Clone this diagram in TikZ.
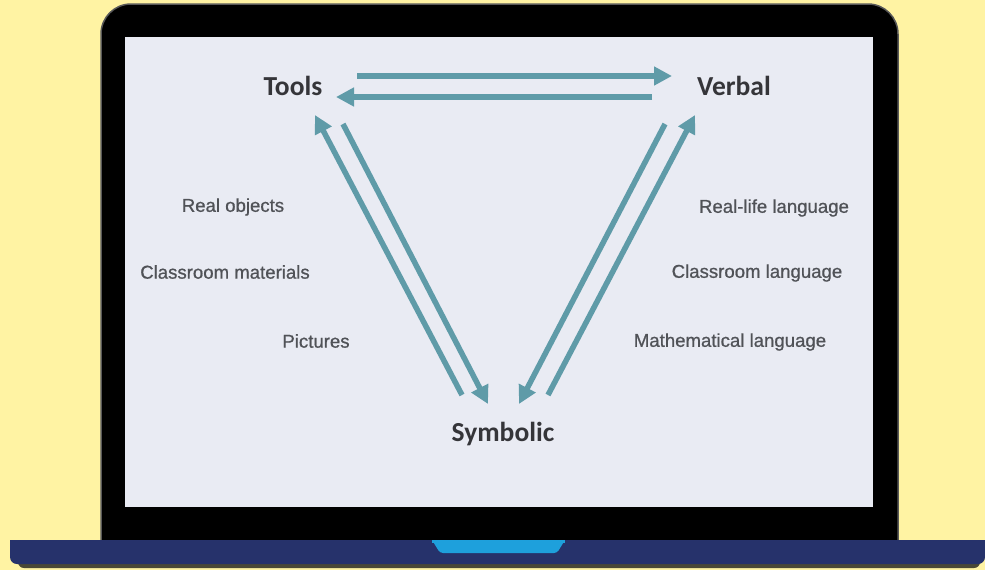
\documentclass[tikz,border=0pt]{standalone}
\usepackage{fontspec}
\setmainfont{Liberation Sans}
\newfontfamily\labfont[FakeBold=0.8]{Liberation Sans}
\newfontfamily\titlefont{Carlito}
\usetikzlibrary{arrows.meta}
\definecolor{bgc}{HTML}{FFF3A3}
\definecolor{screenc}{HTML}{E9EBF3}
\definecolor{basec}{HTML}{26326B}
\definecolor{notchc}{HTML}{1EA0DC}
\definecolor{arrowc}{HTML}{5F9BA8}
\definecolor{titlec}{HTML}{353539}
\definecolor{labc}{HTML}{505257}
\definecolor{shadowc}{HTML}{4A4836}
\begin{document}
\begin{tikzpicture}[x=1pt,y=-1pt,
  flow/.style={draw=arrowc, line width=5.5pt, -{Triangle[length=18pt,width=18pt]}},
  title/.style={font=\titlefont\bfseries\fontsize{27.5}{30}\selectfont, text=titlec, inner sep=0pt},
  lab/.style={font=\labfont\fontsize{18.6}{20}\selectfont, text=labc, inner sep=0pt}]
\useasboundingbox (0,0) rectangle (985,570);
\fill[bgc] (0,0) rectangle (985,570);
% bezel
\filldraw[fill=black, draw=black!65, line width=1.5pt]
  (101,545) -- (101,34) arc[start angle=180, end angle=270, radius=30] -- (868,4)
  arc[start angle=270, end angle=360, radius=30] -- (898,545) -- cycle;
% screen
\fill[screenc] (125,37) rectangle (873,507);
% base shadow
\fill[shadowc, rounded corners=6pt] (18,548) rectangle (980,568);
% base
\fill[basec, rounded corners=7pt] (10,540) rectangle (985,564);
\fill[basec] (10,540) rectangle (985,550);
% notch
\fill[notchc, rounded corners=3pt] (432,540) -- (440,553) -- (557,553) -- (565,540) -- cycle;
\fill[notchc] (432,540) rectangle (565,543);

% main nodes
\node[title] (tools) at (293,86) {Tools};
\node[title] (verbal) at (734,86) {Verbal};
\node[title] (symbolic) at (503,434) {Symbolic};

% labels
\node[lab] (realobj) at (233,207) {Real objects};
\node[lab] (classmat) at (225,272) {Classroom materials};
\node[lab] (pictures) at (316,341) {Pictures};
\node[lab] (reallife) at (774,208) {Real-life language};
\node[lab] (classlang) at (757,273) {Classroom language};
\node[lab] (mathlang) at (730,342) {Mathematical language};

% arrow end points
\coordinate (tv1) at (357,76);
\coordinate (tv2) at (672,76);
\coordinate (vt1) at (652,97);
\coordinate (vt2) at (336,97);
\coordinate (st1) at (462,395);
\coordinate (st2) at (315,115);
\coordinate (ts1) at (343,124);
\coordinate (ts2) at (488,404);
\coordinate (vs1) at (665,124);
\coordinate (vs2) at (519,404);
\coordinate (sv1) at (548,395);
\coordinate (sv2) at (695,115);

\draw[flow] (tv1) -- (tv2);
\draw[flow] (vt1) -- (vt2);
\draw[flow] (st1) -- (st2);
\draw[flow] (ts1) -- (ts2);
\draw[flow] (vs1) -- (vs2);
\draw[flow] (sv1) -- (sv2);
\end{tikzpicture}
\end{document}
